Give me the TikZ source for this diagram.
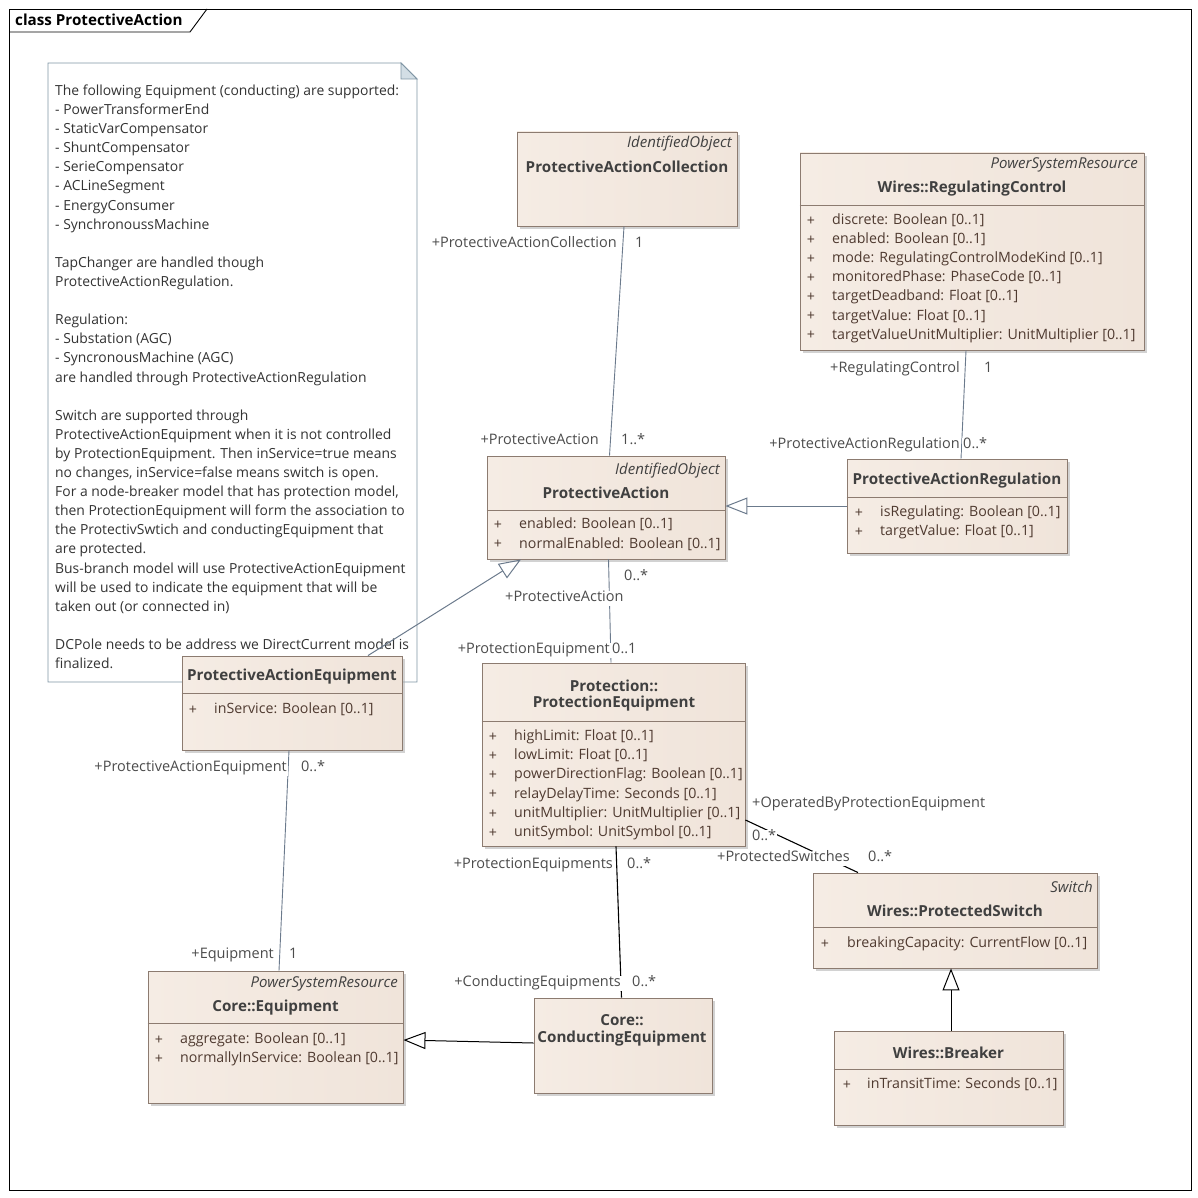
\documentclass[tikz,border=0pt]{standalone}
\usepackage{fontspec}
\setmainfont{Open Sans}
\usetikzlibrary{arrows.meta, shadows}
\definecolor{umlline}{HTML}{6B7A8C}
\definecolor{umlborder}{HTML}{8C7B70}
\definecolor{umlfillA}{HTML}{F5ECE4}
\definecolor{umlfillB}{HTML}{FCF9F6}
\definecolor{umlfillC}{HTML}{F0E4DA}
\definecolor{umltext}{HTML}{404040}
\definecolor{umlattr}{HTML}{4F3A30}
\definecolor{notedraw}{HTML}{7F95A4}
\definecolor{notefold}{HTML}{D3DEE5}
\newcommand\umlnotefont{\fontsize{13.9}{16}\selectfont}
\newcommand\umlattrfont{\fontsize{14.2}{16}\selectfont}
\newcommand\umllblfont{\fontsize{14.5}{16}\selectfont}
\newcommand\umlnamefont{\fontsize{15.2}{17}\selectfont\bfseries}
\newcommand\umlstereofont{\fontsize{15}{17}\selectfont\itshape}

\begin{document}
\begin{tikzpicture}[x=1pt, y=-1pt,
  every node/.style={font=\umlattrfont, inner sep=0pt},
  umlclass/.style={rectangle, draw=umlborder, line width=0.9pt, left color=umlfillA, middle color=umlfillB, right color=umlfillC, drop shadow={shadow xshift=3pt, shadow yshift=-3pt, fill=black!35, opacity=0.5}},
  umlsep/.style={draw=umlborder, line width=0.8pt},
  clsname/.style={font=\umlnamefont, text=umltext, yshift=-1pt},
  stereo/.style={font=\umlstereofont, text=umltext, anchor=east, yshift=-1pt},
  plus/.style={text=umlattr, yshift=-2pt},
  attr/.style={anchor=west, text=umlattr, text height=10pt, text depth=3pt, yshift=-2pt},
  notetxt/.style={font=\umlnotefont, anchor=west, text=black!80, text height=10pt, text depth=3pt, yshift=-2pt},
  lbl/.style={font=\umllblfont, text=black!70, fill=white, inner sep=1pt, text height=10pt, text depth=3pt, yshift=-2pt},
  assoc/.style={draw=umlline, line width=0.9pt},
  assocb/.style={draw=black, line width=1.1pt},
  gen/.style={line width=1pt, -{Triangle[open, length=22pt, width=17pt]}},
]
\useasboundingbox (0,0) rectangle (1197,1198);

% frame
\draw[line width=0.9pt] (9,9) rectangle (1191,1190);
\draw[line width=0.9pt] (9,32) -- (190,32) -- (207,9);
\node[font=\umlnamefont, anchor=west] (title) at (15,20) {class ProtectiveAction};

% note
\draw[draw=notedraw, fill=white, line width=0.9pt] (48,63) -- (401,63) -- (417,79) -- (417,682) -- (48,682) -- cycle;
\draw[draw=notedraw, fill=notefold, line width=0.9pt] (401,63) -- (401,79) -- (417,79) -- cycle;
\foreach \t [count=\i from 0] in {The following Equipment (conducting) are supported:, - PowerTransformerEnd, - StaticVarCompensator, - ShuntCompensator, - SerieCompensator, - ACLineSegment, - EnergyConsumer, - SynchronoussMachine, {}, TapChanger are handled though, ProtectiveActionRegulation., {}, Regulation:, - Substation (AGC), - SyncronousMachine (AGC), are handled through ProtectiveActionRegulation, {}, Switch are supported through, ProtectiveActionEquipment when it is not controlled, by ProtectionEquipment. Then inService=true means, {no changes, inService=false means switch is open.}, {For a node-breaker model that has protection model,}, then ProtectionEquipment will form the association to, the ProtectivSwtich and conductingEquipment that, are protected., Bus-branch model will use ProtectiveActionEquipment, will be used to indicate the equipment that will be, taken out (or connected in), {}, DCPole needs to be address we DirectCurrent model is, finalized.}
  \node[notetxt] (note\i) at (55,90+19.1*\i) {\t};

% classes
\node[umlclass, minimum width=220pt, minimum height=94pt] (pac) at (627,179) {};
\node[stereo] (pacst) at (732,143) {IdentifiedObject};
\node[clsname] (pacnm) at (627,166) {ProtectiveActionCollection};

\node[umlclass, minimum width=344pt, minimum height=197pt] (rc) at (972,251.5) {};
\node[stereo] (rcst) at (1138,164) {PowerSystemResource};
\node[clsname] (rcnm) at (972,188) {Wires::RegulatingControl};
\draw[umlsep] (rc.west |- 0,205) -- (rc.east |- 0,205);
\foreach \a [count=\i from 0] in {discrete: Boolean [0..1], enabled: Boolean [0..1], mode: RegulatingControlModeKind [0..1], monitoredPhase: PhaseCode [0..1], targetDeadband: Float [0..1], targetValue: Float [0..1], targetValueUnitMultiplier: UnitMultiplier [0..1]}{
  \node[plus] (rcp\i) at (811,219+19.1*\i) {+};
  \node[attr] (rca\i) at (832,219+19.1*\i) {\a};
}

\node[umlclass, minimum width=220pt, minimum height=94pt] (par) at (957,506) {};
\node[clsname] (parnm) at (957,480) {ProtectiveActionRegulation};
\draw[umlsep] (par.west |- 0,497) -- (par.east |- 0,497);
\foreach \a [count=\i from 0] in {isRegulating: Boolean [0..1], targetValue: Float [0..1]}{
  \node[plus] (parp\i) at (859,511+19*\i) {+};
  \node[attr] (para\i) at (880,511+19*\i) {\a};
}

\node[umlclass, minimum width=238pt, minimum height=103pt] (pa) at (606,507.5) {};
\node[stereo] (past) at (720,470) {IdentifiedObject};
\node[clsname] (panm) at (606,492) {ProtectiveAction};
\draw[umlsep] (pa.west |- 0,510) -- (pa.east |- 0,510);
\foreach \a [count=\i from 0] in {enabled: Boolean [0..1], normalEnabled: Boolean [0..1]}{
  \node[plus] (pap\i) at (498,523+19.5*\i) {+};
  \node[attr] (paa\i) at (519,523+19.5*\i) {\a};
}

\node[umlclass, minimum width=263pt, minimum height=183pt] (pe) at (613.5,754.5) {};
\node[clsname] (penm1) at (614,685) {Protection::};
\node[clsname] (penm2) at (614,703) {ProtectionEquipment};
\draw[umlsep] (pe.west |- 0,721) -- (pe.east |- 0,721);
\foreach \a [count=\i from 0] in {highLimit: Float [0..1], lowLimit: Float [0..1], powerDirectionFlag: Boolean [0..1], relayDelayTime: Seconds [0..1], unitMultiplier: UnitMultiplier [0..1], unitSymbol: UnitSymbol [0..1]}{
  \node[plus] (pep\i) at (493,735+19.2*\i) {+};
  \node[attr] (pea\i) at (514,735+19.2*\i) {\a};
}

\node[umlclass, minimum width=220pt, minimum height=94pt] (pae) at (292,703) {};
\node[clsname] (paenm) at (292,676) {ProtectiveActionEquipment};
\draw[umlsep] (pae.west |- 0,693) -- (pae.east |- 0,693);
\node[plus] (paep0) at (193,708) {+};
\node[attr] (paea0) at (214,708) {inService: Boolean [0..1]};

\node[umlclass, minimum width=255pt, minimum height=132pt] (eq) at (275.5,1037) {};
\node[stereo] (eqst) at (398,983) {PowerSystemResource};
\node[clsname] (eqnm) at (275.5,1007) {Core::Equipment};
\draw[umlsep] (eq.west |- 0,1023) -- (eq.east |- 0,1023);
\foreach \a [count=\i from 0] in {aggregate: Boolean [0..1], normallyInService: Boolean [0..1]}{
  \node[plus] (eqp\i) at (159,1038+19*\i) {+};
  \node[attr] (eqa\i) at (180,1038+19*\i) {\a};
}

\node[umlclass, minimum width=178pt, minimum height=95pt] (ce) at (623,1045.5) {};
\node[clsname] (cenm1) at (622,1019) {Core::};
\node[clsname] (cenm2) at (622,1038) {ConductingEquipment};

\node[umlclass, minimum width=284pt, minimum height=95pt] (ps) at (955,920.5) {};
\node[stereo] (psst) at (1093,886) {Switch};
\node[clsname] (psnm) at (955,910) {Wires::ProtectedSwitch};
\draw[umlsep] (ps.west |- 0,927) -- (ps.east |- 0,927);
\node[plus] (psp0) at (825,942) {+};
\node[attr] (psa0) at (847,942) {breakingCapacity: CurrentFlow [0..1]};

\node[umlclass, minimum width=229pt, minimum height=94pt] (br) at (948.5,1078) {};
\node[clsname] (brnm) at (948.5,1052) {Wires::Breaker};
\draw[umlsep] (br.west |- 0,1069) -- (br.east |- 0,1069);
\node[plus] (brp0) at (847,1083) {+};
\node[attr] (bra0) at (867,1083) {inTransitTime: Seconds [0..1]};

% connectors
\draw[assoc] ([xshift=-3pt]pac.south) -- ([xshift=3.5pt]pa.north);
\draw[assoc] ([xshift=-6pt]rc.south) -- ([xshift=4pt]par.north);
\draw[gen, umlline] (par.west) -- (par.west -| pa.east);
\draw[gen, umlline] ([xshift=76pt]pae.north) -- ([xshift=-85pt]pa.south);
\draw[assoc] ([xshift=2.5pt]pa.south) -- ([xshift=-2.5pt]pe.north);
\draw[assoc] ([xshift=-3pt]pae.south) -- ([xshift=3.5pt]eq.north);
\draw[assocb] ([xshift=2.5pt]pe.south) -- ([xshift=-1.5pt]ce.north);
\draw[gen, black] ([yshift=2.5pt]ce.west) -- ([yshift=-3pt]eq.east);
\draw[assocb] ([yshift=-65.5pt]pe.east) -- ([xshift=-97pt]ps.north);
\draw[gen, black] ([xshift=2.5pt]br.north) -- ([xshift=-4pt]ps.south);

% role labels
\node[lbl, anchor=east] (l1) at (618,242) {+ProtectiveActionCollection};
\node[lbl, anchor=west] (l2) at (634,242) {1};
\node[lbl, anchor=east] (l3) at (600,439) {+ProtectiveAction};
\node[lbl, anchor=west] (l4) at (620,439) {1..*};
\node[lbl, anchor=east] (l5) at (961,367) {+RegulatingControl};
\node[lbl, anchor=west] (l6) at (983,367) {1};
\node[lbl, anchor=east] (l7) at (961,443) {+ProtectiveActionRegulation};
\node[lbl, anchor=west] (l8) at (962,443) {0..*};
\node[lbl, anchor=west] (l9) at (623,575) {0..*};
\node[lbl, anchor=west] (l10) at (504,596) {+ProtectiveAction};
\node[lbl, anchor=east] (l11) at (611,648) {+ProtectionEquipment};
\node[lbl, anchor=west] (l12) at (611,648) {0..1};
\node[lbl, anchor=east] (l13) at (288,766) {+ProtectiveActionEquipment};
\node[lbl, anchor=west] (l14) at (300,766) {0..*};
\node[lbl, anchor=east] (l15) at (275,953) {+Equipment};
\node[lbl, anchor=west] (l16) at (288,953) {1};
\node[lbl, anchor=east] (l17) at (614,863) {+ProtectionEquipments};
\node[lbl, anchor=west] (l18) at (626,863) {0..*};
\node[lbl, anchor=east] (l19) at (622,981) {+ConductingEquipments};
\node[lbl, anchor=west] (l20) at (631,981) {0..*};
\node[lbl, anchor=west] (l21) at (751,802) {+OperatedByProtectionEquipment};
\node[lbl, anchor=west] (l22) at (751,835) {0..*};
\node[lbl, anchor=west] (l23) at (716,856) {+ProtectedSwitches};
\node[lbl, anchor=west] (l24) at (867,856) {0..*};

\end{tikzpicture}
\end{document}
